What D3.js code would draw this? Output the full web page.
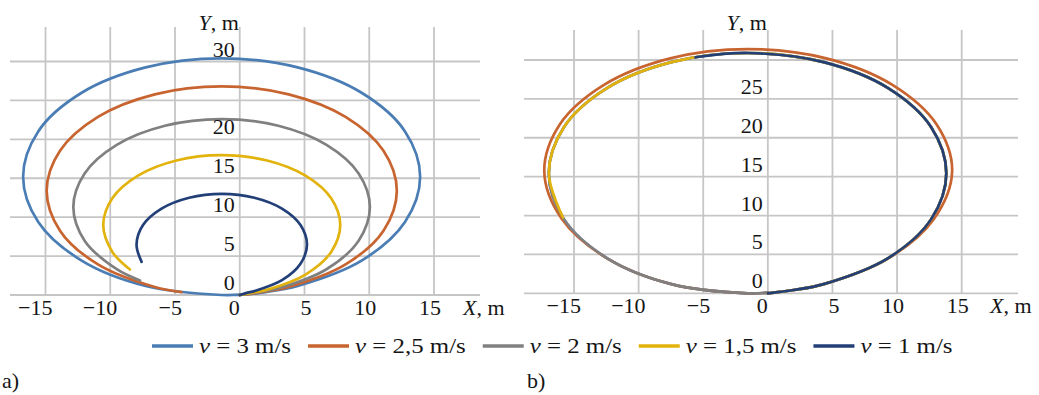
<!DOCTYPE html>
<html>
<head>
<meta charset="utf-8">
<script src="https://cdn.jsdelivr.net/npm/d3@7"></script>
<style>
  html, body { margin: 0; padding: 0; background: #ffffff; }
  svg { display: block; }
  text { font-family: "Liberation Serif", "Times New Roman", serif; fill: #151515; }
</style>
</head>
<body>
<svg id="chart" width="1039" height="395"></svg>
<script>
// Speeds shown in the legend
const speeds = ["3", "2,5", "2", "1,5", "1"];
const palette = ["#4b7db5", "#c8642f", "#808080", "#e3b30d", "#223f78"];

// Tick values
const xTicks = [-15, -10, -5, 0, 5, 10, 15];
const gridYValues = [0, 5, 10, 15, 20, 25, 30];
const yLabelsA = [0, 5, 10, 15, 20, 30];
const yLabelsB = [0, 5, 10, 15, 20, 25];

// Panel a) trajectories, [X, Y] in metres
const trajA_v3 = [[0,0],[2.0,0.38],[4.47,1.16],[9.44,4.45],[12.76,9.38],[13.93,15.2],[12.76,21.02],[9.44,25.95],[4.47,29.24],[-1.4,30.4],[-7.27,29.24],[-12.24,25.95],[-15.56,21.02],[-16.73,15.2],[-15.56,9.38],[-12.24,4.45],[-7.27,1.16],[-1.4,0],[0,0.04]];
const trajA_v25 = [[0,0],[1.8,0.38],[3.78,1.02],[8.17,3.93],[11.10,8.27],[12.13,13.4],[11.10,18.53],[8.17,22.88],[3.78,25.78],[-1.39,26.8],[-6.56,25.78],[-10.95,22.88],[-13.88,18.53],[-14.91,13.4],[-13.88,8.27],[-10.95,3.93],[-6.56,1.02],[-4.5,0.36]];
const trajA_v2 = [[0,0],[1.5,0.37],[2.98,0.86],[6.70,3.31],[9.18,6.98],[10.05,11.3],[9.18,15.62],[6.70,19.29],[2.98,21.74],[-1.4,22.6],[-5.78,21.74],[-9.50,19.29],[-11.98,15.62],[-12.85,11.3],[-11.98,6.98],[-9.50,3.31],[-7.7,1.87]];
const trajA_v15 = [[0,0],[1.0,0.31],[2.11,0.68],[5.08,2.63],[7.06,5.54],[7.76,8.98],[7.06,12.42],[5.08,15.33],[2.11,17.28],[-1.39,17.96],[-4.89,17.28],[-7.86,15.33],[-9.84,12.42],[-10.54,8.98],[-9.84,5.54],[-8.48,3.28]];
const trajA_v1 = [[0,0],[0.6,0.3],[1.13,0.50],[3.26,1.90],[4.69,4.01],[5.19,6.5],[4.69,8.99],[3.26,11.10],[1.13,12.50],[-1.39,13.0],[-3.91,12.50],[-6.04,11.10],[-7.47,8.99],[-7.97,6.5],[-7.58,4.26]];

// Panel b) trajectories, [X, Y] in metres
const trajB_v3 = [[0,0],[2.0,0.42],[4.32,1.18],[9.31,4.53],[12.64,9.54],[13.81,15.45],[12.64,21.36],[9.31,26.38],[4.32,29.72],[-1.57,30.9],[-7.46,29.72],[-12.45,26.38],[-15.78,21.36],[-16.95,15.45],[-15.78,9.54],[-12.45,4.53],[-7.46,1.18],[-1.57,0],[0,0.08]];
const trajB_v25 = [[0,0],[2.0,0.42],[4.33,1.18],[9.36,4.53],[12.85,9.56],[14.26,15.7],[13.06,21.71],[9.64,26.80],[4.52,30.21],[-1.52,31.4],[-7.56,30.21],[-12.68,26.80],[-16.10,21.71],[-17.30,15.7],[-15.95,9.58],[-12.48,4.53],[-7.47,1.18],[-1.57,0],[0,0.08]];
const trajB_v2 = [[0,0],[2.0,0.42],[4.32,1.18],[9.31,4.53],[12.64,9.54],[13.81,15.45],[12.64,21.36],[9.31,26.38],[4.32,29.72],[-1.57,30.9],[-7.46,29.72],[-12.45,26.38],[-15.78,21.36],[-16.95,15.45],[-15.78,9.54],[-12.45,4.53],[-7.46,1.18],[-1.57,0],[0,0.08]];
const trajB_v15 = [[0,0],[2.0,0.42],[4.32,1.18],[9.31,4.53],[12.64,9.54],[13.81,15.45],[12.64,21.36],[9.31,26.38],[4.32,29.72],[-1.57,30.9],[-7.46,29.72],[-12.45,26.38],[-15.78,21.36],[-16.95,15.45],[-15.85,9.75]];
const trajB_v1 = [[0,0],[2.0,0.42],[4.32,1.18],[9.31,4.53],[12.64,9.54],[13.81,15.45],[12.64,21.36],[9.31,26.38],[4.32,29.72],[-1.57,30.9],[-5.6,30.35]];

const svg = d3.select("#chart");
const FONT = 22;
const fmt = v => (v < 0 ? "\u2212" + Math.abs(v) : String(v));

const panels = [
  {
    tag: "a)", tagX: 2,
    xRange: [45.5, 434], yRange: [295, 61.5],
    gridTop: 27, gridLeft: 10, gridRight: 480,
    yLabels: yLabelsA, xTitleX: 463,
    series: [trajA_v3, trajA_v25, trajA_v2, trajA_v15, trajA_v1]
  },
  {
    tag: "b)", tagX: 527,
    xRange: [574, 961.7], yRange: [293.3, 60],
    gridTop: 30, gridLeft: 524, gridRight: 1018,
    yLabels: yLabelsB, xTitleX: 990,
    series: [trajB_v3, trajB_v25, trajB_v2, trajB_v15, trajB_v1]
  }
];

panels.forEach(p => {
  const x = d3.scaleLinear().domain([-15, 15]).range(p.xRange);
  const y = d3.scaleLinear().domain([0, 30]).range(p.yRange);
  const g = svg.append("g");

  // grid
  const grid = g.append("g").attr("stroke", "#c6c6c6").attr("stroke-width", 1.8);
  grid.selectAll("line.v").data(xTicks).join("line")
    .attr("class", "v")
    .attr("x1", d => x(d)).attr("x2", d => x(d))
    .attr("y1", p.gridTop).attr("y2", y(0));
  grid.selectAll("line.h").data(gridYValues).join("line")
    .attr("class", "h")
    .attr("x1", p.gridLeft).attr("x2", p.gridRight)
    .attr("y1", d => y(d)).attr("y2", d => y(d));

  // curves
  const line = d3.line()
    .x(d => x(d[0])).y(d => y(d[1]))
    .curve(d3.curveCatmullRom.alpha(0.5));
  g.append("g").selectAll("path").data(p.series).join("path")
    .attr("d", d => line(d))
    .attr("fill", "none")
    .attr("stroke", (d, i) => palette[i])
    .attr("stroke-width", 2.7)
    .attr("stroke-linecap", "round")
    .attr("stroke-linejoin", "round");

  // x tick labels
  g.append("g").selectAll("text").data(xTicks).join("text")
    .attr("x", d => x(d) + (d === 0 ? 0 : 7))
    .attr("y", y(0) + 20)
    .attr("text-anchor", "end")
    .attr("font-size", FONT)
    .text(fmt);

  // y tick labels
  g.append("g").selectAll("text").data(p.yLabels).join("text")
    .attr("x", x(0) - 5)
    .attr("y", d => y(d) - 5)
    .attr("text-anchor", "end")
    .attr("font-size", FONT)
    .text(fmt);

  // axis titles
  const yt = g.append("text")
    .attr("x", x(0) - 1).attr("y", 30)
    .attr("text-anchor", "end").attr("font-size", FONT);
  yt.append("tspan").attr("font-style", "italic").text("Y");
  yt.append("tspan").text(", m");

  const xt = g.append("text")
    .attr("x", p.xTitleX).attr("y", y(0) + 20)
    .attr("font-size", FONT);
  xt.append("tspan").attr("font-style", "italic").text("X");
  xt.append("tspan").text(", m");

  // panel tag
  svg.append("text").attr("x", p.tagX).attr("y", 388)
    .attr("font-size", FONT).text(p.tag);
});

// legend: swatch + label, laid out left to right; labels set slightly wide
const legend = svg.append("g");
const stretch = 1.13;
let cursor = 152;
speeds.forEach((s, i) => {
  const item = legend.append("g");
  item.append("line")
    .attr("x1", cursor).attr("x2", cursor + 41)
    .attr("y1", 346).attr("y2", 346)
    .attr("stroke", palette[i]).attr("stroke-width", 3.5);
  const t = item.append("text")
    .attr("transform", `translate(${cursor + 47},353) scale(${stretch},1)`)
    .attr("font-size", FONT);
  t.append("tspan").attr("font-style", "italic").text("\u03BD");
  t.append("tspan").text(` = ${s} m/s`);
  cursor += 47 + t.node().getComputedTextLength() * stretch + 17;
});
</script>
</body>
</html>
